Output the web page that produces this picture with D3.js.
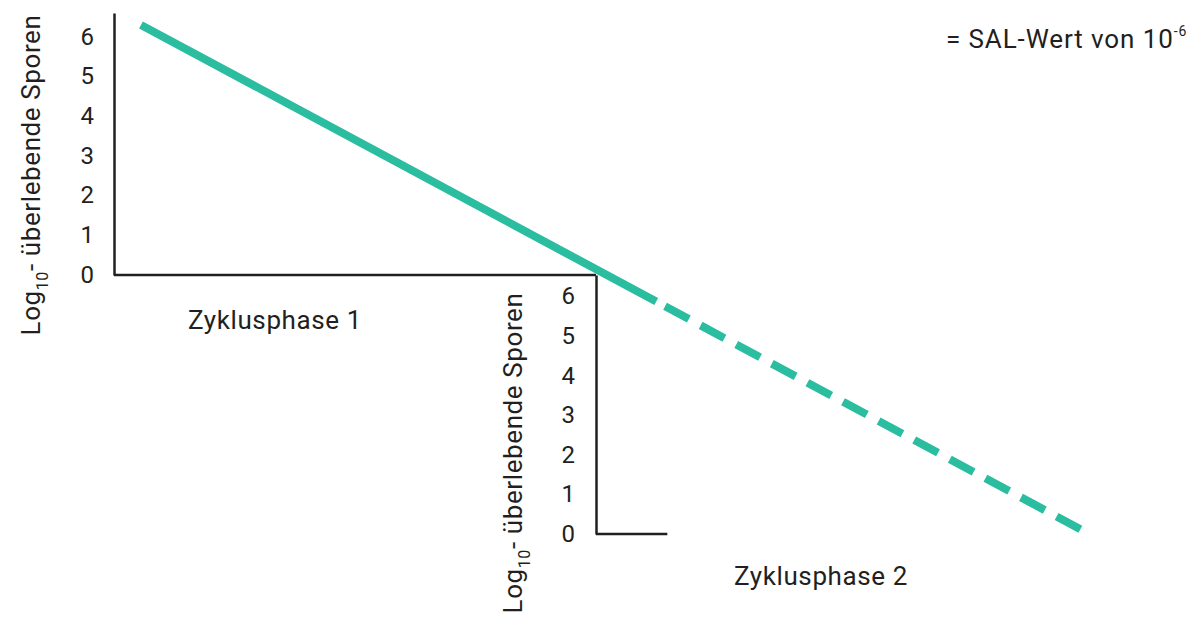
<!DOCTYPE html>
<html>
<head>
<meta charset="utf-8">
<script src="https://cdn.jsdelivr.net/npm/d3@7"></script>
<style>
  html, body { margin: 0; padding: 0; background: #fff; }
  svg { display: block; }
  text { font-family: Roboto, "Liberation Sans", sans-serif; fill: #231f20; }
</style>
</head>
<body>
<svg id="chart" width="1192" height="617"></svg>
<script>
// ---- data ----
const yTicks = [0, 1, 2, 3, 4, 5, 6];
const phaseLabels = ["Zyklusphase 1", "Zyklusphase 2"];
const yLabelMain = "- überlebende Sporen";
const legendText = "= SAL-Wert von 10";
const legendExp = "-6";
// survivor curve: [cycle position (0..2), log10 survivors, which phase's scale]
const lineStart = [0.056, 6.3, 1];
const lineEnd = [2.008, 0.1, 2];
const solidUntil = 1.125; // cycle position where the line turns dashed

// ---- scales ----
const svg = d3.select("#chart");
const x = d3.scaleLinear().domain([0, 2]).range([114, 1078]);
const y1 = d3.scaleLinear().domain([0, 6.6]).range([275, 13]);
const y2 = d3.scaleLinear().domain([0, 6.55]).range([534, 275]);
const axisColor = "#231f20";
const green = "#2bbd9f";

// ---- axes phase 1 ----
const ax1 = svg.append("g").attr("transform", `translate(${x(0)},0)`)
  .call(d3.axisLeft(y1).tickValues(yTicks).tickSize(0).tickPadding(20).tickFormat(d3.format("d")));
const ax1b = svg.append("g").attr("transform", `translate(0,${y1(0)})`)
  .call(d3.axisBottom(x).tickValues([]).tickSizeOuter(0));
ax1b.select(".domain").attr("d", `M${x(0)},0H${x(1)}`);

// ---- axes phase 2 ----
const ax2 = svg.append("g").attr("transform", `translate(${x(1)},0)`)
  .call(d3.axisLeft(y2).tickValues(yTicks).tickSize(0).tickPadding(21).tickFormat(d3.format("d")));
const ax2b = svg.append("g").attr("transform", `translate(0,${y2(0)})`)
  .call(d3.axisBottom(x).tickValues([]).tickSizeOuter(0));
ax2b.select(".domain").attr("d", `M${x(1)},0H${x(1.148)}`);

[ax1, ax2, ax1b, ax2b].forEach(a => {
  a.select(".domain").attr("stroke", axisColor).attr("stroke-width", 2.5);
  a.selectAll(".tick text").attr("font-size", 24).attr("font-family", "Roboto").attr("fill", axisColor).attr("dy", "0.3em");
});

// ---- axis titles ----
function yTitle(cx, cy) {
  const t = svg.append("text")
    .attr("transform", `translate(${cx},${cy}) rotate(-90)`)
    .attr("text-anchor", "middle")
    .attr("font-size", 26)
    .attr("letter-spacing", 0.6);
  t.append("tspan").text("Log");
  t.append("tspan").attr("font-size", 16).attr("dy", 8).text("10");
  t.append("tspan").attr("dy", -8).text(yLabelMain);
}
yTitle(40, 175);
yTitle(522, 453);

svg.append("text").attr("x", 188).attr("y", 329).attr("font-size", 26).attr("letter-spacing", 0.6)
  .text(phaseLabels[0]);
svg.append("text").attr("x", 734).attr("y", 585).attr("font-size", 26).attr("letter-spacing", 0.6)
  .text(phaseLabels[1]);

// ---- legend ----
const lg = svg.append("text").attr("x", 946).attr("y", 48).attr("font-size", 26).attr("letter-spacing", 0.9);
lg.append("tspan").text(legendText);
lg.append("tspan").attr("font-size", 14).attr("dy", -12).text(legendExp);

// ---- survivor line ----
const p0 = [x(lineStart[0]), (lineStart[2] === 1 ? y1 : y2)(lineStart[1])];
const p1 = [x(lineEnd[0]), (lineEnd[2] === 1 ? y1 : y2)(lineEnd[1])];
const f = (x(solidUntil) - p0[0]) / (p1[0] - p0[0]);
const pm = [p0[0] + f * (p1[0] - p0[0]), p0[1] + f * (p1[1] - p0[1])];
const line = d3.line();
svg.append("path").attr("d", line([p0, pm]))
  .attr("stroke", green).attr("stroke-width", 8).attr("fill", "none");
svg.append("path").attr("d", line([pm, p1]))
  .attr("stroke", green).attr("stroke-width", 8).attr("fill", "none")
  .attr("stroke-dasharray", "27,13.4").attr("stroke-dashoffset", 30.4);
</script>
</body>
</html>
